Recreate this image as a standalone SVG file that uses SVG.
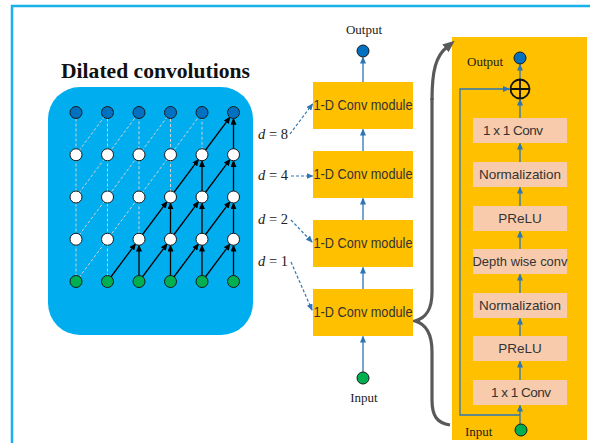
<svg xmlns="http://www.w3.org/2000/svg" width="590" height="443" viewBox="0 0 590 443">
<defs>
<style>
.frame{fill:none;stroke:#1AB0EA;stroke-width:2.5}
.bg{fill:#00AEEF}
.nblue{fill:#0070C0;stroke:#1a1a1a;stroke-width:1}
.nwhite{fill:#ffffff;stroke:#1a1a1a;stroke-width:1}
.ngreen{fill:#00B050;stroke:#1a1a1a;stroke-width:1}
.solid{stroke:#000;stroke-width:1.3;fill:none;marker-end:url(#ab)}
.dash{stroke:#D0D0D0;stroke-width:1;stroke-dasharray:3 2;fill:none}
.mod{fill:#FFC000}
.peach{fill:#F8CBAD}
.blue{stroke:#2E75B6;stroke-width:1.3;fill:none;marker-end:url(#abl)}
.bdash{stroke:#2E75B6;stroke-width:1.2;stroke-dasharray:3 2;fill:none;marker-end:url(#abl)}
.sans{font-family:"Liberation Sans","Open Sans",Arial,sans-serif;fill:#333;font-size:13.5px}
.msans{font-family:"Liberation Sans","Open Sans",Arial,sans-serif;fill:#333;font-size:14.5px}
.serif{font-family:"Liberation Serif","DejaVu Serif",serif;fill:#222;font-size:13px}
.dl{font-family:"Liberation Serif","DejaVu Serif",serif;fill:#222;font-size:14.5px}
</style>
<marker id="ab" markerWidth="7" markerHeight="6" refX="6" refY="3" orient="auto" markerUnits="userSpaceOnUse"><path d="M0,0 L7,3 L0,6 Z" fill="#000"/></marker>
<marker id="abl" markerWidth="7" markerHeight="6" refX="6" refY="3" orient="auto" markerUnits="userSpaceOnUse"><path d="M0,0 L7,3 L0,6 Z" fill="#2E75B6"/></marker>
<marker id="agr" markerWidth="12" markerHeight="10" refX="2" refY="5" orient="auto-start-reverse" markerUnits="userSpaceOnUse"><path d="M0,0 L12,5 L0,10 Z" fill="#595959"/></marker>
</defs>
<rect x="0" y="0" width="590" height="443" fill="#fff"/>
<rect class="frame" x="12" y="6" width="620" height="460"/>

<g id="title"><text x="61" y="78" font-family="Liberation Serif,DejaVu Serif,serif" font-weight="bold" font-size="21" fill="#111" textLength="189" lengthAdjust="spacingAndGlyphs">Dilated convolutions</text></g>

<g id="dilated-grid">
<rect class="bg" x="48" y="87" width="205" height="248" rx="32" ry="32"/>
<g class="dash">
<path d="M76,281.5V112.5 M107.5,281.5V112.5 M139,239.25V112.5 M170.5,197V112.5 M202,154.75V112.5"/>
<path d="M76,281.5L202,112.5 M76,239.25L170.5,112.5 M76,197L139,112.5 M76,154.75L107.5,112.5"/>
</g>
<g class="solid">
<path d="M107.5,281.5L135.4,244.1"/>
<path d="M139,281.5L166.9,244.1"/>
<path d="M170.5,281.5L198.4,244.1"/>
<path d="M202,281.5L229.9,244.1"/>
<path d="M139,281.5V245.5"/><path d="M170.5,281.5V245.5"/><path d="M202,281.5V245.5"/><path d="M233.5,281.5V245.5"/>
<path d="M139,239.25L166.9,201.9"/>
<path d="M170.5,239.25L198.4,201.9"/>
<path d="M202,239.25L229.9,201.9"/>
<path d="M170.5,239.25V203.2"/><path d="M202,239.25V203.2"/><path d="M233.5,239.25V203.2"/>
<path d="M170.5,197L198.4,159.6"/>
<path d="M202,197L229.9,159.6"/>
<path d="M202,197V161"/><path d="M233.5,197V161"/>
<path d="M202,154.75L229.9,117.4"/>
<path d="M233.5,154.75V118.7"/>
</g>
<g>
<circle class="nblue" cx="76" cy="112.5" r="6"/><circle class="nblue" cx="107.5" cy="112.5" r="6"/><circle class="nblue" cx="139" cy="112.5" r="6"/><circle class="nblue" cx="170.5" cy="112.5" r="6"/><circle class="nblue" cx="202" cy="112.5" r="6"/><circle class="nblue" cx="233.5" cy="112.5" r="6"/>
<circle class="nwhite" cx="76" cy="154.75" r="6"/><circle class="nwhite" cx="107.5" cy="154.75" r="6"/><circle class="nwhite" cx="139" cy="154.75" r="6"/><circle class="nwhite" cx="170.5" cy="154.75" r="6"/><circle class="nwhite" cx="202" cy="154.75" r="6"/><circle class="nwhite" cx="233.5" cy="154.75" r="6"/>
<circle class="nwhite" cx="76" cy="197" r="6"/><circle class="nwhite" cx="107.5" cy="197" r="6"/><circle class="nwhite" cx="139" cy="197" r="6"/><circle class="nwhite" cx="170.5" cy="197" r="6"/><circle class="nwhite" cx="202" cy="197" r="6"/><circle class="nwhite" cx="233.5" cy="197" r="6"/>
<circle class="nwhite" cx="76" cy="239.25" r="6"/><circle class="nwhite" cx="107.5" cy="239.25" r="6"/><circle class="nwhite" cx="139" cy="239.25" r="6"/><circle class="nwhite" cx="170.5" cy="239.25" r="6"/><circle class="nwhite" cx="202" cy="239.25" r="6"/><circle class="nwhite" cx="233.5" cy="239.25" r="6"/>
<circle class="ngreen" cx="76" cy="281.5" r="6"/><circle class="ngreen" cx="107.5" cy="281.5" r="6"/><circle class="ngreen" cx="139" cy="281.5" r="6"/><circle class="ngreen" cx="170.5" cy="281.5" r="6"/><circle class="ngreen" cx="202" cy="281.5" r="6"/><circle class="ngreen" cx="233.5" cy="281.5" r="6"/>
</g>
</g>

<g id="panel"><rect x="452" y="37" width="135" height="403" fill="#FFC000"/></g>

<g id="connectors">
<path class="blue" d="M363,82V57.5"/>
<path class="blue" d="M363,151V129.5"/>
<path class="blue" d="M363,220V198.5"/>
<path class="blue" d="M363,289V267.5"/>
<path class="blue" d="M363,372V336.5"/>
<path class="bdash" d="M290,134L312.5,104"/>
<path class="bdash" d="M291,176H312.5"/>
<path class="bdash" d="M291,220L312,242"/>
<path class="bdash" d="M291,262L312,310"/>
<path d="M432,100 C432,70 436,56 447,47" stroke="#595959" stroke-width="3.2" fill="none" marker-end="url(#agr)"/>
<path d="M432,98 L432,292 C432,310 426,318 415,321 C426,324 432,334 432,352 L432,400 C432,416 437,423 450,425" stroke="#595959" stroke-width="3.2" fill="none"/>
<path class="blue" d="M520,81V64.5"/>
<path class="blue" d="M520,118V99.5"/>
<path class="blue" d="M520,162V143.5"/>
<path class="blue" d="M520,206V187.5"/>
<path class="blue" d="M520,249V231.5"/>
<path class="blue" d="M520,293V274.5"/>
<path class="blue" d="M520,336V318.5"/>
<path class="blue" d="M520,380V361.5"/>
<path class="blue" d="M520,424V405.5"/>
<path class="blue" d="M520,415H460V89H509"/>
</g>

<g id="middle-output"><text class="serif" x="364" y="34" text-anchor="middle">Output</text><circle class="nblue" cx="363" cy="51" r="6"/></g>
<g id="mod1"><rect class="mod" x="313" y="82" width="100" height="47"/><text class="msans" x="363" y="110" text-anchor="middle" textLength="99" lengthAdjust="spacingAndGlyphs">1-D Conv module</text></g>
<g id="mod2"><rect class="mod" x="313" y="151" width="100" height="47"/><text class="msans" x="363" y="179" text-anchor="middle" textLength="99" lengthAdjust="spacingAndGlyphs">1-D Conv module</text></g>
<g id="mod3"><rect class="mod" x="313" y="220" width="100" height="47"/><text class="msans" x="363" y="248" text-anchor="middle" textLength="99" lengthAdjust="spacingAndGlyphs">1-D Conv module</text></g>
<g id="mod4"><rect class="mod" x="313" y="289" width="100" height="47"/><text class="msans" x="363" y="317" text-anchor="middle" textLength="99" lengthAdjust="spacingAndGlyphs">1-D Conv module</text></g>
<g id="middle-input"><circle class="ngreen" cx="363" cy="378" r="6"/><text class="serif" x="364" y="402" text-anchor="middle">Input</text></g>
<g id="d-labels" class="dl">
<text x="258" y="139"><tspan font-style="italic">d</tspan> = 8</text>
<text x="258" y="180"><tspan font-style="italic">d</tspan> = 4</text>
<text x="258" y="224"><tspan font-style="italic">d</tspan> = 2</text>
<text x="258" y="266"><tspan font-style="italic">d</tspan> = 1</text>
</g>

<g id="panel-output"><text class="serif" x="467" y="66" font-size="12">Output</text><circle class="nblue" cx="520" cy="58" r="6"/></g>
<g id="plus"><circle cx="520" cy="89" r="9.5" fill="none" stroke="#111" stroke-width="1.8"/><path d="M510.5,89H529.5M520,79.5V98.5" stroke="#111" stroke-width="1.8"/></g>
<g id="b1"><rect class="peach" x="473" y="118" width="94" height="25"/><text class="sans" x="513" y="135" text-anchor="middle" fill="#222" textLength="60">1 x 1 Conv</text></g>
<g id="b2"><rect class="peach" x="473" y="162" width="94" height="25"/><text class="sans" x="520" y="179" text-anchor="middle" textLength="82">Normalization</text></g>
<g id="b3"><rect class="peach" x="473" y="206" width="94" height="25"/><text class="sans" x="520" y="223" text-anchor="middle">PReLU</text></g>
<g id="b4"><rect class="peach" x="473" y="249" width="94" height="25"/><text class="sans" x="520" y="266" text-anchor="middle" textLength="95" lengthAdjust="spacingAndGlyphs">Depth wise conv</text></g>
<g id="b5"><rect class="peach" x="473" y="293" width="94" height="25"/><text class="sans" x="520" y="310" text-anchor="middle" textLength="82">Normalization</text></g>
<g id="b6"><rect class="peach" x="473" y="336" width="94" height="25"/><text class="sans" x="520" y="353" text-anchor="middle">PReLU</text></g>
<g id="b7"><rect class="peach" x="473" y="380" width="94" height="25"/><text class="sans" x="521" y="397" text-anchor="middle" textLength="60">1 x 1 Conv</text></g>
<g id="panel-input"><text class="serif" x="465" y="436" font-size="12">Input</text><circle class="ngreen" cx="521" cy="430" r="6"/></g>
</svg>
